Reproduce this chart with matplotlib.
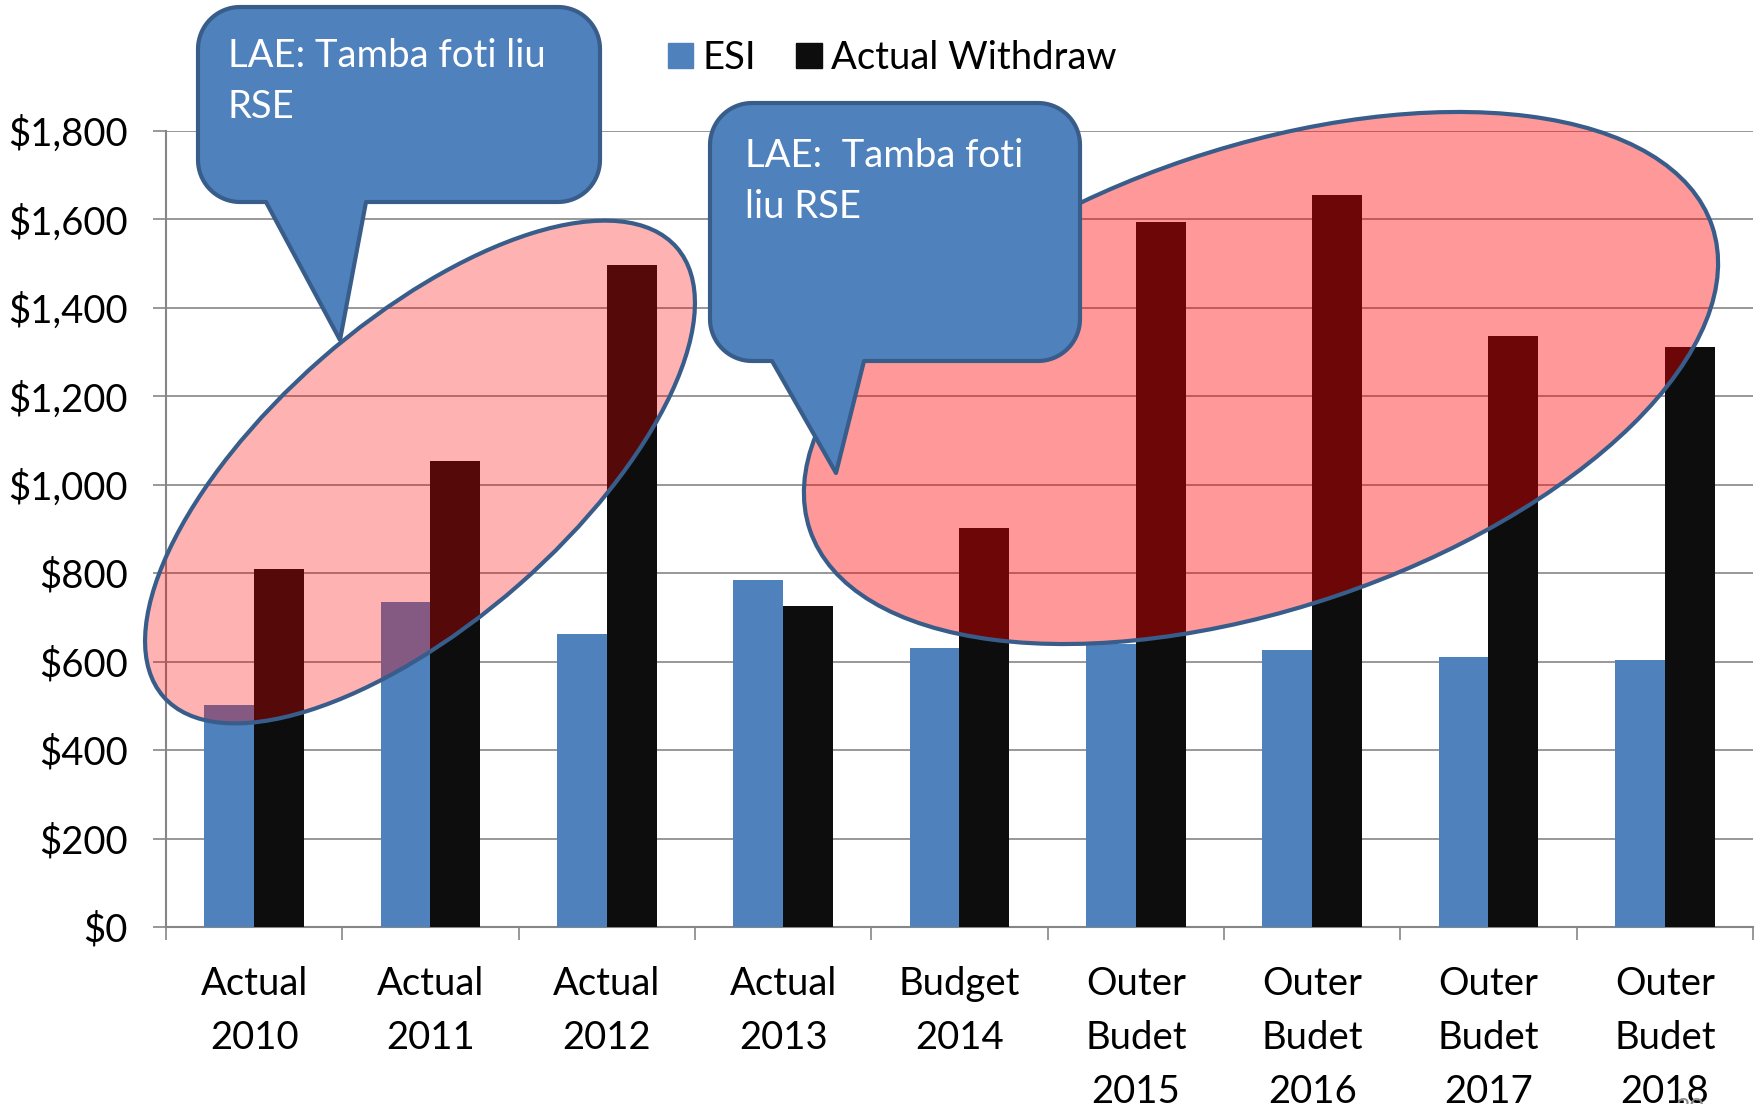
import numpy as np
import matplotlib
matplotlib.use("Agg")
import matplotlib.pyplot as plt
from matplotlib.patches import Ellipse, Polygon, Rectangle

plt.rcParams['font.family'] = ['Lato', 'DejaVu Sans']

categories = ["Actual\n2010", "Actual\n2011", "Actual\n2012", "Actual\n2013",
              "Budget\n2014", "Outer\nBudet\n2015", "Outer\nBudet\n2016",
              "Outer\nBudet\n2017", "Outer\nBudet\n2018"]
esi = [501, 734, 663, 785, 630, 640, 626, 610, 604]
withdraw = [810, 1054, 1497, 727, 902, 1595, 1655, 1336, 1312]
y_ticks = [0, 200, 400, 600, 800, 1000, 1200, 1400, 1600, 1800]
series_names = ["ESI", "Actual Withdraw"]

BLUE = "#4F81BD"
DARK = "#0D0D0D"
EDGE = "#385D8A"
GRID = "#868686"
FS = 27.5

W, H = 1758, 1104
fig = plt.figure(figsize=(W / 100, H / 100), dpi=100)
ax = fig.add_axes([166 / W, 1 - 927 / H, (1753 - 166) / W, (927 - 131) / H])

x = np.arange(len(categories)) + 0.5
bw = 0.283
ax.bar(x - bw / 2, esi, bw, color=BLUE, zorder=3)
ax.bar(x + bw / 2, withdraw, bw, color=DARK, zorder=3)

ax.set_xlim(0, len(categories))
ax.set_ylim(0, 1800)
ax.set_yticks(y_ticks)
ax.set_yticklabels([f"${v:,}" for v in y_ticks])
ax.yaxis.grid(True, color=GRID, lw=1.2, zorder=0)
ax.set_axisbelow(True)

ax.set_xticks(x)
ax.set_xticklabels(categories, linespacing=1.62)
ax.set_xticks(np.arange(len(categories) + 1), minor=True)
ax.tick_params(axis='x', which='major', length=0, pad=28, labelsize=FS)
ax.tick_params(axis='x', which='minor', length=9.5, width=1.2, color=GRID)
ax.tick_params(axis='y', length=9.5, width=1.2, color=GRID, pad=18, labelsize=FS)

for s in ['top', 'right']:
    ax.spines[s].set_visible(False)
for s in ['left', 'bottom']:
    ax.spines[s].set_color(GRID)
    ax.spines[s].set_linewidth(1.5)

# overlay in pixel coordinates for the highlight shapes and callouts
ov = fig.add_axes([0, 0, 1, 1])
ov.set_xlim(0, W)
ov.set_ylim(H, 0)
ov.axis('off')
ov.patch.set_alpha(0)


def highlight(cx, cy, w, h, ang, alpha):
    ov.add_patch(Ellipse((cx, cy), w, h, angle=-ang, facecolor='red',
                         alpha=alpha, edgecolor='none', zorder=1))
    ov.add_patch(Ellipse((cx, cy), w, h, angle=-ang, facecolor='none',
                         edgecolor=EDGE, lw=3, zorder=2))


highlight(420, 472, 682, 300, 41.2, 0.3)
highlight(1261, 378, 952, 461, 18.6, 0.4)


def callout(x0, y0, x1, y1, r, bl, br, tip, text, tx, ty):
    def arc(cx, cy, t0, t1):
        t = np.radians(np.linspace(t0, t1, 20))
        return list(zip(cx + r * np.cos(t), cy + r * np.sin(t)))
    pts = []
    pts += arc(x1 - r, y0 + r, 270, 360)
    pts += arc(x1 - r, y1 - r, 0, 90)
    pts += [(br, y1), tip, (bl, y1)]
    pts += arc(x0 + r, y1 - r, 90, 180)
    pts += arc(x0 + r, y0 + r, 180, 270)
    ov.add_patch(Polygon(pts, closed=True, facecolor=BLUE, edgecolor=EDGE,
                         lw=3, joinstyle='round', zorder=3))
    ov.text(tx, ty, text, color='white', fontsize=FS, ha='left', va='top',
            linespacing=1.52, zorder=4)


callout(198, 7, 600, 202, 42, 266, 366, (340, 340),
        "LAE: Tamba foti liu\nRSE", 228, 38)
callout(710, 103, 1080, 361, 42, 772, 864, (836, 473),
        "LAE:  Tamba foti\nliu RSE", 745, 138)

handles = [Rectangle((0, 0), 1, 1, color=BLUE), Rectangle((0, 0), 1, 1, color=DARK)]
fig.legend(handles, series_names, loc='center left',
           bbox_to_anchor=(668 / W, 1 - 58 / H), ncol=2, frameon=False,
           fontsize=FS, handlelength=0.66, handleheight=0.66,
           handletextpad=0.25, columnspacing=1.05, borderpad=0, borderaxespad=0)

fig.text(1690 / W, 1 - 1097 / H, "30", color="#8C8C8C", fontsize=18,
         ha='center', va='top')

fig.savefig("out.png", dpi=100)
